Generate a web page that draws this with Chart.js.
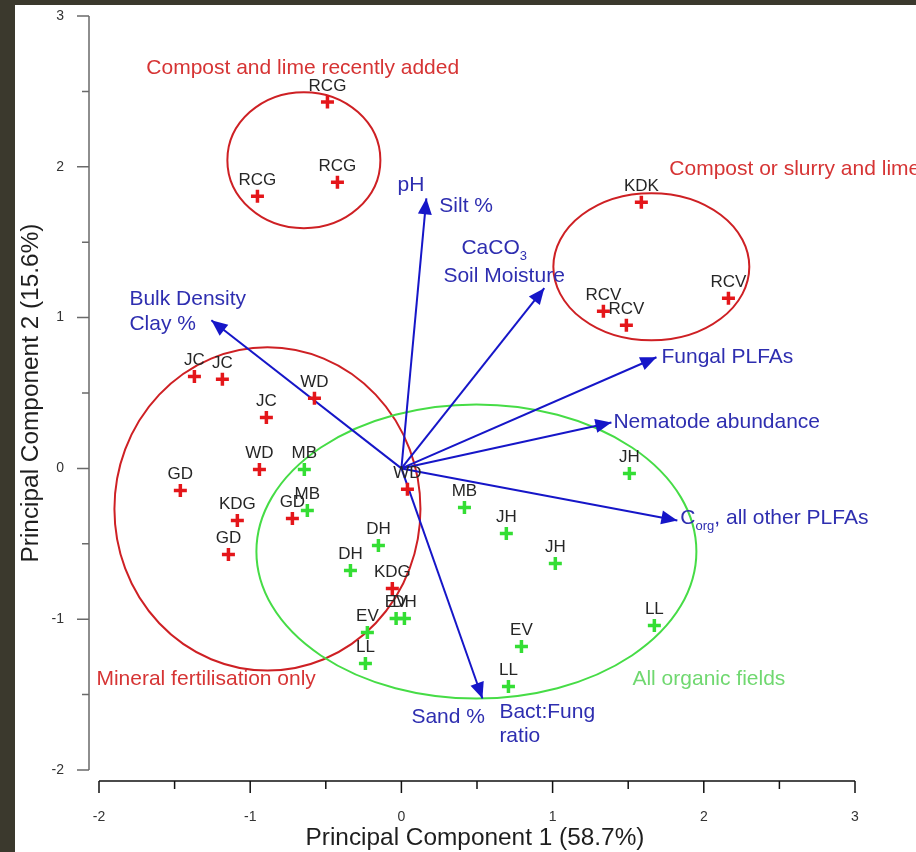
<!DOCTYPE html>
<html><head><meta charset="utf-8">
<script src="https://cdn.jsdelivr.net/npm/chart.js@4/dist/chart.umd.min.js"></script>
<style>html,body{margin:0;padding:0;background:#fff;overflow:hidden}canvas{display:block}</style>
</head><body>
<canvas id="c" width="916" height="852"></canvas>
<script>
// ---------- DATA ----------
const xTickValues = [-2, -1, 0, 1, 2, 3];
const yTickValues = [-2, -1, 0, 1, 2, 3];
const xTickLabels = ['-2', '-1', '0', '1', '2', '3'];
const yTickLabels = ['-2', '-1', '0', '1', '2', '3'];
const xAxisTitle = 'Principal Component 1 (58.7%)';
const yAxisTitle = 'Principal Component 2 (15.6%)';

// fields with mineral fertiliser / compost + lime (red)
const redNames = ['RCG','RCG','RCG','KDK','RCV','RCV','RCV','JC','JC','WD','JC','WD','GD','KDG','GD','GD','WD','KDG'];
const redPC1 = [-0.489,-0.952,-0.423,1.587,2.163,1.336,1.488,-1.369,-1.184,-0.575,-0.893,-0.939,-1.462,-1.085,-0.721,-1.144,0.040,-0.060];
const redPC2 = [2.430,1.805,1.898,1.765,1.128,1.042,0.949,0.610,0.591,0.465,0.338,-0.007,-0.146,-0.345,-0.332,-0.571,-0.139,-0.796];

// organic fields (green)
const greenNames = ['MB','MB','DH','DH','EV','DH','EV','LL','MB','JH','JH','JH','LL','EV','LL'];
const greenPC1 = [-0.642,-0.622,-0.152,-0.337,-0.035,0.020,-0.225,-0.238,0.417,0.694,1.018,1.508,1.673,0.794,0.708];
const greenPC2 = [-0.007,-0.279,-0.511,-0.677,-0.995,-0.995,-1.088,-1.294,-0.259,-0.431,-0.630,-0.033,-1.042,-1.181,-1.447];

// loading vectors (arrows from origin)
const vectorNames = ['pH / Silt %','CaCO3 / Soil Moisture','Bulk Density / Clay %','Fungal PLFAs','Nematode abundance','Corg, all other PLFAs','Sand % / Bact:Fung ratio'];
const vectorPC1 = [0.165, 0.945, -1.257, 1.687, 1.389, 1.825, 0.536];
const vectorPC2 = [1.791, 1.195, 0.982, 0.737, 0.305, -0.345, -1.526];

// group ellipses: centre and semi-axes in PC units
const groupNames = ['Compost and lime recently added','Compost or slurry and lime','Mineral fertilisation only','All organic fields'];
const groupCX = [-0.645, 1.653, -0.886, 0.496];
const groupCY = [2.044, 1.337, -0.269, -0.551];
const groupRX = [0.506, 0.648, 1.012, 1.455];
const groupRY = [0.451, 0.488, 1.072, 0.975];

// ---------- STYLE / LAYOUT ----------
const FONT = '"Liberation Sans", Arial, Helvetica, sans-serif';
const RED = 'rgb(228,22,26)';
const GREEN = 'rgb(52,222,52)';
const ARROW = 'rgb(22,22,200)';
const ARROWTXT = 'rgb(46,46,176)';
const groupStroke = ['rgb(206,32,36)','rgb(206,32,36)','rgb(206,32,36)','rgb(70,220,70)'];
const groupText = ['rgb(214,52,52)','rgb(214,52,52)','rgb(214,52,52)','rgb(112,216,112)'];
const groupLabelPos = [[-1.687,2.654],[1.772,1.984],[-2.017,-1.400],[1.528,-1.400]];

const arrowLabelPos = [
  {t:'pH', x:-0.026, y:1.878},
  {t:'Silt %', x:0.251, y:1.739},
  {t:'CaCO', x:0.397, y:1.460, sub:'3'},
  {t:'Soil Moisture', x:0.278, y:1.274},
  {t:'Bulk Density', x:-1.799, y:1.121},
  {t:'Clay %', x:-1.799, y:0.956},
  {t:'Fungal PLFAs', x:1.720, y:0.737},
  {t:'Nematode abundance', x:1.402, y:0.305},
  {t:'C', x:1.845, y:-0.332, sub:'org', after:', all other PLFAs'},
  {t:'Sand %', x:0.066, y:-1.652},
  {t:'Bact:Fung', x:0.648, y:-1.619},
  {t:'ratio', x:0.648, y:-1.778}
];

const toPts = (xs, ys) => xs.map((x, i) => ({x, y: ys[i]}));

const arrowDatasets = vectorPC1.map((x, i) => ({
  type: 'line',
  label: vectorNames[i],
  data: [{x: 0, y: 0}, {x, y: vectorPC2[i]}],
  borderColor: ARROW,
  borderWidth: 2,
  pointRadius: 0,
  fill: false,
  isArrow: true,
  order: 5
}));

const framePlugin = {
  id: 'frame',
  beforeDraw(chart) {
    const ctx = chart.ctx;
    ctx.save();
    ctx.fillStyle = '#ffffff';
    ctx.fillRect(0, 0, chart.width, chart.height);
    ctx.fillStyle = '#3b392d';
    ctx.fillRect(0, 0, chart.width, 5);
    ctx.fillRect(0, 0, 15, chart.height);
    ctx.restore();
  },
  beforeDatasetsDraw(chart) {
    const ctx = chart.ctx, xs = chart.scales.x, ys = chart.scales.y;
    ctx.save();
    groupCX.forEach((cx, i) => {
      const px = xs.getPixelForValue(cx), py = ys.getPixelForValue(groupCY[i]);
      const rx = Math.abs(xs.getPixelForValue(cx + groupRX[i]) - px);
      const ry = Math.abs(ys.getPixelForValue(groupCY[i] + groupRY[i]) - py);
      ctx.beginPath();
      ctx.ellipse(px, py, rx, ry, 0, 0, Math.PI * 2);
      ctx.strokeStyle = groupStroke[i];
      ctx.lineWidth = 2;
      ctx.stroke();
    });
    const left = xs.getPixelForValue(xTickValues[0]);
    const right = xs.getPixelForValue(xTickValues[xTickValues.length-1]);
    const top = ys.getPixelForValue(yTickValues[yTickValues.length-1]);
    const bottom = ys.getPixelForValue(yTickValues[0]);
    const yAxisX = left - 10, xAxisY = bottom + 11;
    ctx.strokeStyle = '#6a6a6a';
    ctx.lineWidth = 1.5;
    ctx.beginPath();
    ctx.moveTo(yAxisX, top); ctx.lineTo(yAxisX, bottom);
    yTickValues.forEach((v, i) => {
      const p = ys.getPixelForValue(v);
      ctx.moveTo(yAxisX, p); ctx.lineTo(yAxisX - 12, p);
      if (i < yTickValues.length - 1) {
        const m = ys.getPixelForValue((v + yTickValues[i+1]) / 2);
        ctx.moveTo(yAxisX, m); ctx.lineTo(yAxisX - 7, m);
      }
    });
    ctx.stroke();
    ctx.strokeStyle = '#111';
    ctx.beginPath();
    ctx.moveTo(left, xAxisY); ctx.lineTo(right, xAxisY);
    xTickValues.forEach((v, i) => {
      const p = xs.getPixelForValue(v);
      ctx.moveTo(p, xAxisY); ctx.lineTo(p, xAxisY + 12);
      if (i < xTickValues.length - 1) {
        const m = xs.getPixelForValue((v + xTickValues[i+1]) / 2);
        ctx.moveTo(m, xAxisY); ctx.lineTo(m, xAxisY + 8);
      }
    });
    ctx.stroke();
    ctx.fillStyle = '#333';
    ctx.font = '14px ' + FONT;
    ctx.textAlign = 'right'; ctx.textBaseline = 'middle';
    yTickValues.forEach((v, i) => ctx.fillText(yTickLabels[i], yAxisX - 25, ys.getPixelForValue(v)));
    ctx.textAlign = 'center';
    xTickValues.forEach((v, i) => ctx.fillText(xTickLabels[i], xs.getPixelForValue(v), xAxisY + 36));
    ctx.fillStyle = '#1e1e1e';
    ctx.font = '24.4px ' + FONT;
    ctx.fillText(xAxisTitle, (left + right) / 2 - 2, 838);
    ctx.save();
    ctx.translate(31, (top + bottom) / 2);
    ctx.rotate(-Math.PI / 2);
    ctx.fillText(yAxisTitle, 0, 0);
    ctx.restore();
    ctx.restore();
  },
  afterDatasetsDraw(chart) {
    const ctx = chart.ctx, xs = chart.scales.x, ys = chart.scales.y;
    ctx.save();
    chart.data.datasets.forEach((ds, di) => {
      if (!ds.isArrow) return;
      const pts = chart.getDatasetMeta(di).data;
      const a = pts[0], b = pts[1];
      const ang = Math.atan2(b.y - a.y, b.x - a.x);
      const L = 16, W = 7;
      ctx.beginPath();
      ctx.moveTo(b.x, b.y);
      ctx.lineTo(b.x - L * Math.cos(ang) + W * Math.sin(ang), b.y - L * Math.sin(ang) - W * Math.cos(ang));
      ctx.lineTo(b.x - L * Math.cos(ang) - W * Math.sin(ang), b.y - L * Math.sin(ang) + W * Math.cos(ang));
      ctx.closePath();
      ctx.fillStyle = ARROW;
      ctx.fill();
    });
    ctx.fillStyle = '#262626';
    ctx.font = '17px ' + FONT;
    ctx.textAlign = 'center'; ctx.textBaseline = 'middle';
    [[0, redNames], [1, greenNames]].forEach(([di, names]) => {
      chart.getDatasetMeta(di).data.forEach((el, i) => {
        ctx.fillText(names[i], el.x, el.y - 16);
      });
    });
    ctx.fillStyle = ARROWTXT;
    ctx.textAlign = 'left';
    arrowLabelPos.forEach(l => {
      let px = xs.getPixelForValue(l.x), py = ys.getPixelForValue(l.y);
      ctx.font = '21px ' + FONT;
      ctx.fillText(l.t, px, py);
      px += ctx.measureText(l.t).width;
      if (l.sub) {
        ctx.font = '13px ' + FONT;
        ctx.fillText(l.sub, px, py + 8);
        px += ctx.measureText(l.sub).width;
      }
      if (l.after) {
        ctx.font = '21px ' + FONT;
        ctx.fillText(l.after, px, py);
      }
    });
    ctx.font = '21px ' + FONT;
    groupNames.forEach((g, i) => {
      ctx.fillStyle = groupText[i];
      ctx.fillText(g, xs.getPixelForValue(groupLabelPos[i][0]), ys.getPixelForValue(groupLabelPos[i][1]));
    });
    ctx.restore();
  }
};

new Chart(document.getElementById('c'), {
  type: 'scatter',
  data: {
    datasets: [
      {label: 'Mineral / compost + lime', data: toPts(redPC1, redPC2), pointStyle: 'cross', pointRadius: 6.5, pointHoverRadius: 6.5, borderColor: RED, backgroundColor: RED, pointBorderWidth: 3.5, borderWidth: 3.5, order: 1},
      {label: 'Organic', data: toPts(greenPC1, greenPC2), pointStyle: 'cross', pointRadius: 6.5, pointHoverRadius: 6.5, borderColor: GREEN, backgroundColor: GREEN, pointBorderWidth: 3.5, borderWidth: 3.5, order: 2},
      ...arrowDatasets
    ]
  },
  options: {
    responsive: false,
    animation: false,
    devicePixelRatio: 1,
    layout: {padding: {left: 99, right: 61, top: 16, bottom: 82}},
    plugins: {legend: {display: false}, tooltip: {enabled: false}},
    scales: {
      x: {type: 'linear', min: -2, max: 3, display: false},
      y: {type: 'linear', min: -2, max: 3, display: false}
    }
  },
  plugins: [framePlugin]
});
</script>
</body></html>
